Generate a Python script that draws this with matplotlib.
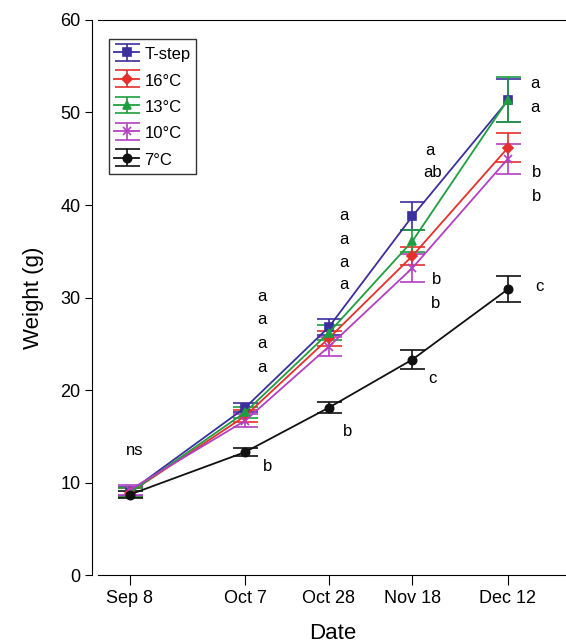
import matplotlib
matplotlib.use('Agg')
import matplotlib.pyplot as plt

plt.rcParams['font.family'] = ['Liberation Sans', 'DejaVu Sans']

# days since Sep 8
days = [0, 29, 50, 71, 95]
date_labels = ['Sep 8', 'Oct 7', 'Oct 28', 'Nov 18', 'Dec 12']

tstep = [9.0, 18.1, 26.8, 38.8, 51.3]
tstep_err = [0.5, 0.5, 0.9, 1.5, 2.3]
t16 = [8.9, 17.2, 25.6, 34.5, 46.2]
t16_err = [0.5, 0.6, 0.8, 1.0, 1.6]
t13 = [8.9, 17.6, 26.2, 36.1, 51.4]
t13_err = [0.5, 0.6, 0.8, 1.2, 2.4]
t10 = [9.2, 16.7, 24.7, 33.2, 45.0]
t10_err = [0.5, 0.7, 1.0, 1.5, 1.6]
t7 = [8.7, 13.3, 18.1, 23.3, 30.9]
t7_err = [0.4, 0.4, 0.6, 1.0, 1.4]

# significance letters: (x in days, y, text)
letters = [
    (1.3, 13.5, 'ns'),
    (33.2, 30.1, 'a'), (33.2, 27.6, 'a'), (33.2, 25.0, 'a'), (33.2, 22.4, 'a'),
    (34.7, 11.7, 'b'),
    (53.8, 38.9, 'a'), (53.8, 36.3, 'a'), (53.8, 33.8, 'a'), (53.8, 31.4, 'a'),
    (54.8, 15.5, 'b'),
    (75.4, 45.9, 'a'), (76.1, 43.5, 'ab'), (77.1, 32.0, 'b'), (76.9, 29.4, 'b'),
    (76.1, 21.2, 'c'),
    (101.8, 53.1, 'a'), (101.8, 50.5, 'a'), (102.3, 43.5, 'b'), (102.3, 40.9, 'b'),
    (103.0, 31.2, 'c'),
]

series = [
    ('T-step', tstep, tstep_err, '#3b2f9e', 's', 6),
    ('16°C', t16, t16_err, '#e5302b', 'D', 5),
    ('13°C', t13, t13_err, '#1f9e3f', '^', 6),
    ('10°C', t10, t10_err, '#b340c0', 'x', 6),
    ('7°C', t7, t7_err, '#111111', 'o', 6),
]

fig = plt.figure(figsize=(5.66, 6.44), dpi=100)
ax = fig.add_axes([0.173, 0.107, 0.83, 0.862])

for name, vals, err, col, mk, ms in series:
    ax.errorbar(days, vals, yerr=err, color=col, marker=mk, markersize=ms,
                mew=1.2, lw=1.3, capsize=9, elinewidth=1.2, capthick=1.2,
                label=name)

for x, y, t in letters:
    ax.text(x, y, t, fontsize=12, ha='center', va='center')

ax.set_xlim(-8, 110)
ax.set_ylim(0, 60)
ax.set_yticks([0, 10, 20, 30, 40, 50, 60])
ax.set_xticks(days)
ax.set_xticklabels(date_labels)
ax.tick_params(axis='both', labelsize=13)
ax.tick_params(axis='x', length=7)
ax.tick_params(axis='y', length=5)
ax.spines['right'].set_visible(False)
ax.spines['left'].set_position(('outward', 4))
ax.set_xlabel('Date', fontsize=16, labelpad=12)
ax.set_ylabel('Weight (g)', fontsize=16, labelpad=12)

leg = ax.legend(loc='upper left', bbox_to_anchor=(0.005, 0.98), fontsize=12,
                frameon=True, fancybox=False, edgecolor='black',
                handlelength=1.5, handleheight=1.2, handletextpad=0.3,
                borderpad=0.35, labelspacing=0.55)
leg.get_frame().set_linewidth(1.0)

fig.savefig('out.png', dpi=100)
